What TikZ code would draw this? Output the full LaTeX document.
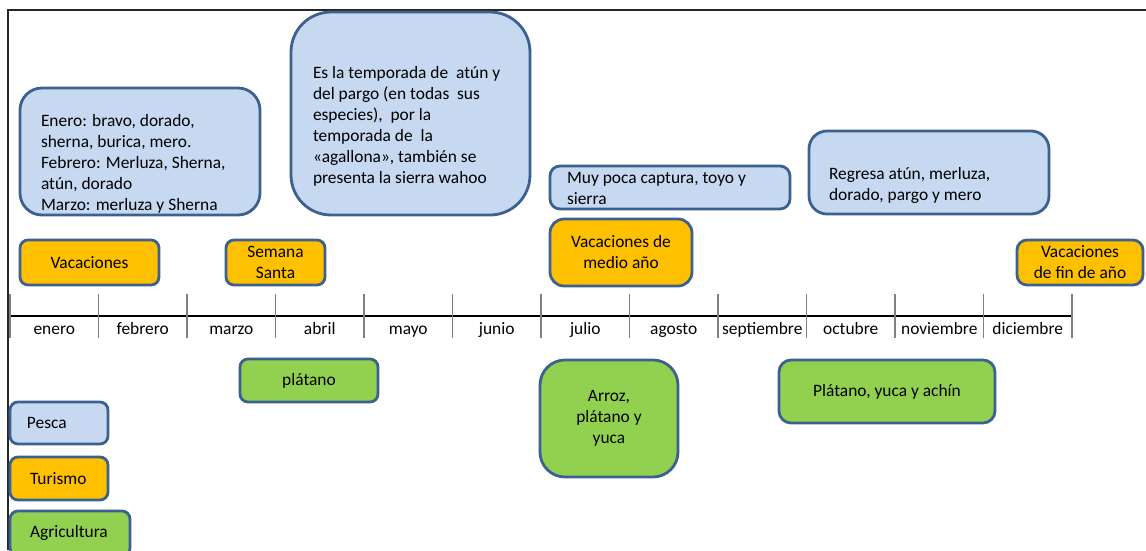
\documentclass[tikz,border=0pt]{standalone}
\usepackage{fontspec}
\setmainfont{Carlito}
\definecolor{bfill}{HTML}{C6D9F1}
\definecolor{ofill}{HTML}{FFC000}
\definecolor{gfill}{HTML}{92D050}
\definecolor{edge}{HTML}{3C6190}
\begin{document}
\begin{tikzpicture}[x=1pt,y=-1pt,
  every node/.style={inner sep=0pt,outer sep=0pt,font=\fontsize{17.4}{21}\selectfont},
  box/.style={draw=edge,line width=2.8pt,align=center},
  bluebox/.style={box,fill=bfill},
  orangebox/.style={box,fill=ofill},
  greenbox/.style={box,fill=gfill},
  txt/.style={align=left,anchor=west},
  month/.style={anchor=base},
  tick/.style={draw=black!50,line width=1.3pt},
  axis/.style={draw=black,line width=1.2pt},
  frame/.style={draw=black!85,line width=1.8pt}]
\useasboundingbox (0,0) rectangle (1146,550);
% frame
\coordinate (fa) at (8,550);
\coordinate (fb) at (8,10);
\coordinate (fc) at (1146,10);
\draw[frame] (fa) -- (fb) -- (fc);
% timeline
\coordinate (ax0) at (10,316);
\coordinate (ax1) at (1072,316);
\draw[axis] (ax0) -- (ax1);
\foreach \i in {0,...,12}{
  \coordinate (tt\i) at ({10+88.5*\i},294);
  \coordinate (tb\i) at ({10+88.5*\i},338);
  \draw[tick] (tt\i) -- (tb\i);
}
\foreach \m [count=\i from 0] in {enero,febrero,marzo,abril,mayo,junio,julio,agosto,septiembre,octubre,noviembre,diciembre}{
  \node[month] (m\i) at ({54.25+88.5*\i},334) {\m};
}
% fishing boxes
\node[bluebox,rounded corners=22pt,minimum width=240pt,minimum height=127pt] (b1) at (140,151.5) {};
\node[txt] (t1) at (41,163.5) {Enero: bravo, dorado,\\sherna, burica, mero.\\Febrero: Merluza, Sherna,\\atún, dorado\\Marzo: merluza y Sherna};
\node[bluebox,rounded corners=40pt,minimum width=239pt,minimum height=203pt] (b2) at (410.5,113.5) {};
\node[txt] (t2) at (313,126) {Es la temporada de\ \ atún y\\del pargo (en todas\ \ sus\\especies),\ \ por la\\temporada de\ \ la\\«agallona», también se\\presenta la sierra wahoo};
\node[bluebox,rounded corners=10pt,minimum width=240pt,minimum height=43pt] (b3) at (670,187.5) {};
\node[txt] (t3) at (567,188) {Muy poca captura, toyo y\\sierra};
\node[bluebox,rounded corners=18pt,minimum width=240pt,minimum height=83pt] (b4) at (929,172.5) {};
\node[txt] (t4) at (829,185) {Regresa atún, merluza,\\dorado, pargo y mero};
% tourism boxes
\node[orangebox,rounded corners=8pt,minimum width=139pt,minimum height=45pt] (v1) at (89.5,262.5) {Vacaciones};
\node[orangebox,rounded corners=8pt,minimum width=99pt,minimum height=45pt] (v2) at (275.5,262.5) {Semana\\Santa};
\node[orangebox,rounded corners=14pt,minimum width=142pt,minimum height=67pt] (v3) at (621,252.5) {Vacaciones de\\medio año};
\node[orangebox,rounded corners=10pt,minimum width=126pt,minimum height=45pt] (v4) at (1080,262.5) {Vacaciones\\de fin de año};
% agriculture boxes
\node[greenbox,rounded corners=8pt,minimum width=138pt,minimum height=43pt] (g1) at (309,380.5) {plátano};
\node[greenbox,rounded corners=25pt,minimum width=138pt,minimum height=117pt] (g2) at (609,418.5) {Arroz,\\plátano y\\yuca};
\node[greenbox,rounded corners=12pt,minimum width=216pt,minimum height=63pt] (g3) at (887,391.5) {Plátano, yuca y achín};
% legend
\node[bluebox,rounded corners=8pt,minimum width=98pt,minimum height=42pt] (l1) at (59,423) {};
\node[txt] (lt1) at (27,423) {Pesca};
\node[orangebox,rounded corners=8pt,minimum width=98pt,minimum height=43pt] (l2) at (59,478.5) {};
\node[txt] (lt2) at (30,478.5) {Turismo};
\node[greenbox,rounded corners=8pt,minimum width=120pt,minimum height=45pt] (l3) at (70,533.5) {};
\node[txt] (lt3) at (30,533) {Agricultura};
\end{tikzpicture}
\end{document}
